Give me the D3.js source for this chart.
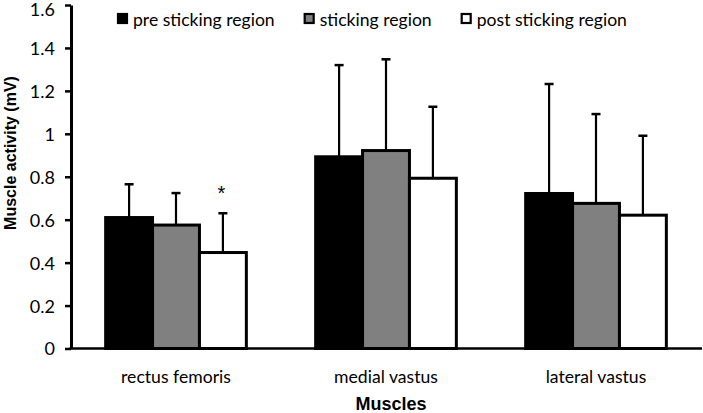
<!DOCTYPE html>
<html><head><meta charset="utf-8">
<script src="https://cdn.jsdelivr.net/npm/d3@7"></script>
<style>
html,body{margin:0;padding:0;background:#fff;}
svg{display:block;}
</style>
</head><body>
<svg id="chart" width="703" height="413"></svg>
<script>
const categories = ["rectus femoris", "medial vastus", "lateral vastus"];
const seriesNames = ["pre sticking region", "sticking region", "post sticking region"];
const preValues = [0.61, 0.893, 0.722];
const stickingValues = [0.575, 0.922, 0.676];
const postValues = [0.447, 0.793, 0.621];
const preSD = [0.155, 0.427, 0.51];
const stickingSD = [0.149, 0.425, 0.416];
const postSD = [0.183, 0.333, 0.37];
const yTicks = [0, 0.2, 0.4, 0.6, 0.8, 1, 1.2, 1.4, 1.6];
const significant = [[0, 2]]; // [category index, series index]
const fills = ["#000000", "#808080", "#ffffff"];

const values = [preValues, stickingValues, postValues];
const sds = [preSD, stickingSD, postSD];

const svg = d3.select("#chart");
const bodyFont = "Lato, 'Open Sans', sans-serif";
const boldFont = "'Liberation Sans', Arial, sans-serif";

const plotLeft = 71, plotRight = 701, plotTop = 5, plotBottom = 348.5;

const y = d3.scaleLinear().domain([0, 1.6]).range([plotBottom, plotTop]);
const x0 = d3.scaleBand().domain(categories).range([plotLeft, plotRight]).paddingInner(0.33).paddingOuter(0.165);
const x1 = d3.scaleBand().domain(seriesNames).range([0, x0.bandwidth()]);

// y axis
const yAxis = d3.axisLeft(y).tickValues(yTicks).tickSize(6).tickSizeOuter(0)
  .tickFormat(d => String(+d.toFixed(1)));
const gy = svg.append("g").attr("transform", `translate(${plotLeft},0)`).call(yAxis);
gy.select(".domain").attr("stroke", "#000").attr("stroke-width", 3);
gy.selectAll(".tick line").attr("stroke", "#000").attr("stroke-width", 2.5);
gy.selectAll(".tick text").attr("font-family", bodyFont).attr("font-size", 18)
  .attr("fill", "#000").attr("x", -16).attr("dy", "0.36em")
  .attr("y", d => (y(d) - 8 < 0 ? 4 : 0));

// bars
const data = [];
categories.forEach((c, ci) => seriesNames.forEach((s, si) => {
  data.push({c, s, ci, si, v: values[si][ci], sd: sds[si][ci]});
}));

const bars = svg.append("g");
bars.selectAll("rect").data(data).join("rect")
  .attr("x", d => x0(d.c) + x1(d.s))
  .attr("y", d => y(d.v))
  .attr("width", x1.bandwidth())
  .attr("height", d => y(0) - y(d.v))
  .attr("fill", d => fills[d.si])
  .attr("stroke", "#000").attr("stroke-width", 3);

// error bars
const eg = svg.append("g").attr("stroke", "#000");
data.forEach(d => {
  const cx = x0(d.c) + x1(d.s) + x1.bandwidth() / 2;
  eg.append("line").attr("x1", cx).attr("x2", cx).attr("y1", y(d.v)).attr("y2", y(d.v + d.sd)).attr("stroke-width", 2.2);
  eg.append("line").attr("x1", cx - 4.5).attr("x2", cx + 4.5).attr("y1", y(d.v + d.sd)).attr("y2", y(d.v + d.sd)).attr("stroke-width", 2.5);
});

// significance asterisk
significant.forEach(([ci, si]) => {
  const d = data.find(e => e.ci === ci && e.si === si);
  const cx = x0(d.c) + x1(d.s) + x1.bandwidth() / 2;
  svg.append("text").attr("x", cx - 1.5).attr("y", y(d.v + d.sd) - 13)
    .attr("text-anchor", "middle").attr("font-family", boldFont).attr("font-size", 20)
    .text("*");
});

// x axis line
svg.append("line").attr("x1", plotLeft - 1.5).attr("x2", 702).attr("y1", plotBottom).attr("y2", plotBottom)
  .attr("stroke", "#000").attr("stroke-width", 2.5);

// category labels
svg.append("g").selectAll("text").data(categories).join("text")
  .attr("x", d => x0(d) + x0.bandwidth() / 2)
  .attr("y", 383)
  .attr("text-anchor", "middle").attr("font-family", bodyFont).attr("font-size", 17.6)
  .attr("fill", "#000").text(d => d);

// axis titles
svg.append("text").attr("x", 391).attr("y", 409.5).attr("text-anchor", "middle")
  .attr("font-family", boldFont).attr("font-weight", "bold").attr("font-size", 18).text("Muscles");
svg.append("text").attr("transform", "translate(16,153) rotate(-90)").attr("text-anchor", "middle")
  .attr("font-family", boldFont).attr("font-weight", "bold").attr("font-size", 16).text("Muscle activity (mV)");

// legend
const lg = svg.append("g");
let lx = 117;
seriesNames.forEach((s, i) => {
  lg.append("rect").attr("x", lx + 1).attr("y", 14).attr("width", 9).attr("height", 9)
    .attr("fill", fills[i]).attr("stroke", "#000").attr("stroke-width", 2.2);
  const t = lg.append("text").attr("x", lx + 16).attr("y", 25.5)
    .attr("font-family", bodyFont).attr("font-size", 17.6).attr("fill", "#000").text(s);
  const w = t.node().getComputedTextLength();
  lx = lx + 16 + w + 29;
});
</script>
</body></html>
